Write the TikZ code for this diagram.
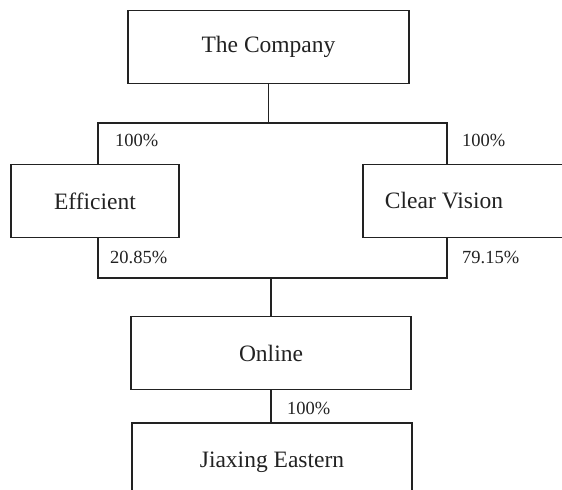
\documentclass[tikz,border=0pt]{standalone}
\usepackage{fontspec}
\setmainfont{Liberation Serif}
\definecolor{ink}{HTML}{222222}
\begin{document}
\begin{tikzpicture}[x=1bp,y=-1bp,
  box/.style={draw=ink, line width=1.1bp, minimum width=#1, minimum height=73bp, inner sep=0pt, font=\fontsize{23.5bp}{26bp}\selectfont, text=ink},
  box/.default=281bp,
  pct/.style={anchor=west, inner sep=0pt, font=\fontsize{18.5bp}{20bp}\selectfont, text=ink},
  vline/.style={draw=ink, line width=1.1bp},
  hline/.style={draw=ink, line width=1.7bp, line cap=rect}]
\useasboundingbox (0,0) rectangle (562,490);
\clip (0,0) rectangle (562,490);
% boxes
\node[box] (top) at (268.5,47) {The Company};
\node[box=168bp] (eff) at (95,201) {Efficient};
\node[box=212bp] (cv) at (469,201) {};
\node[inner sep=0pt, font=\fontsize{23.5bp}{26bp}\selectfont, text=ink] (cvtext) at (444,201) {Clear Vision};
\node[box=280bp] (online) at (271,353) {Online};
\node[box=280bp, minimum height=78bp] (jx) at (272,462) {Jiaxing Eastern};
% junction coordinates
\coordinate (jl) at (98,123);
\coordinate (jr) at (447,123);
\coordinate (bl) at (98,278);
\coordinate (br) at (447,278);
\coordinate (bm) at (271,278);
% connectors
\draw[vline] (top.south) -- (top.south |- jl);
\draw[hline] (jl) -- (jr);
\draw[vline] (jl) -- (jl |- eff.north);
\draw[vline] (jr) -- (jr |- cv.north);
\draw[vline] (bl |- eff.south) -- (bl);
\draw[vline] (br |- cv.south) -- (br);
\draw[hline] (bl) -- (br);
\draw[vline] (bm) -- (bm |- online.north);
\draw[vline] (online.south -| bm) -- (jx.north -| bm);
% labels
\node[pct] (p1) at (115,140) {100\%};
\node[pct] (p2) at (462,140) {100\%};
\node[pct] (p3) at (110,257) {20.85\%};
\node[pct] (p4) at (462,257) {79.15\%};
\node[pct] (p5) at (287,408) {100\%};
\end{tikzpicture}
\end{document}
